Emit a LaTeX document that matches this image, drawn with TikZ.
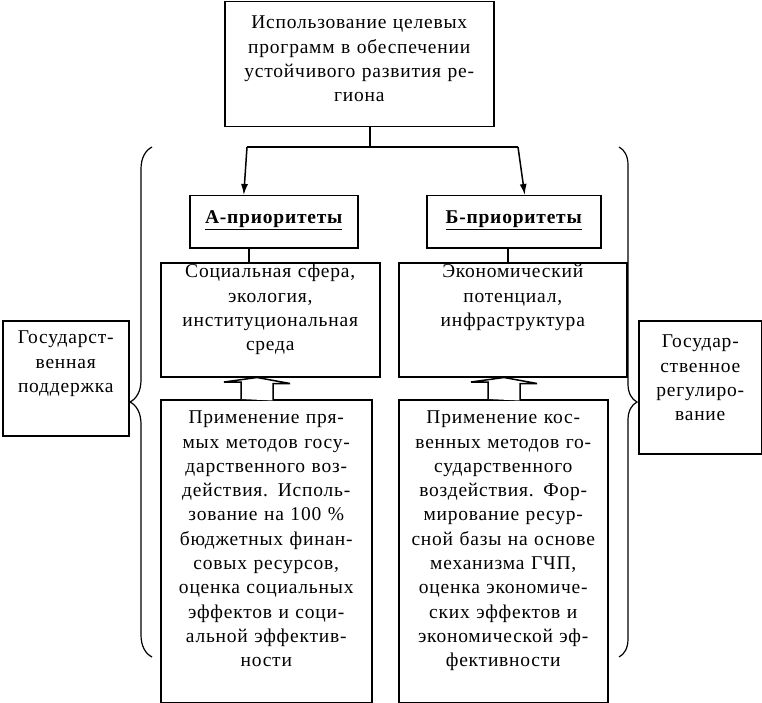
\documentclass[tikz,border=0pt]{standalone}
\usepackage{fontspec}
\setmainfont{Liberation Serif}[LetterSpace=4.0]
\usepackage{tikz}
\usetikzlibrary{arrows.meta,calc,positioning,decorations.pathreplacing}

\tikzset{
  blk/.style={draw, line width=1.5pt, inner sep=0pt, align=center, anchor=north west,
    font=\fontsize{19.5}{24.3}\selectfont},
  conn/.style={line width=1.5pt},
  arr/.style={conn, -{Latex[length=11pt,width=7pt]}},
  hollow/.style={line width=1.5pt, fill=white, line join=miter},
  brc/.style={line width=1.2pt, decorate, decoration={brace, amplitude=#1}},
  brc/.default=20pt
}

\begin{document}
\begin{tikzpicture}[x=1pt, y=-1pt]
\useasboundingbox (0,0) rectangle (762,703);
% boxes
\node[blk, text width=269pt, text height=27pt, text depth=98pt] (goal) at (224,1)
  {Использование целевых\\программ в обеспечении\\устойчивого развития ре-\\гиона};
\node[blk, text width=168pt, text height=28pt, text depth=24pt,
  font=\fontsize{19.5}{24.3}\selectfont\bfseries] (prA) at (189,195) {\underline{А-приоритеты}};
\node[blk, text width=174pt, text height=28pt, text depth=24pt,
  font=\fontsize{19.5}{24.3}\selectfont\bfseries] (prB) at (426,195) {\underline{Б-приоритеты}};
\node[blk, text width=219pt, text height=15pt, text depth=99pt] (sfA) at (160,262)
  {Социальная сфера,\\экология,\\институциональная\\среда};
\node[blk, text width=228pt, text height=15pt, text depth=99pt] (sfB) at (398,262)
  {Экономический\\потенциал,\\инфраструктура};
\node[blk, text width=211pt, text height=24pt, text depth=279pt] (mtA) at (160,399)
  {Применение пря-\\мых методов госу-\\дарственного воз-\\действия. Исполь-\\зование на 100~\%\\бюджетных финан-\\совых ресурсов,\\оценка социальных\\эффектов и соци-\\альной эффектив-\\ности};
\node[blk, text width=209pt, text height=24pt, text depth=279pt] (mtB) at (398,399)
  {Применение кос-\\венных методов го-\\сударственного\\воздействия. Фор-\\мирование ресур-\\сной базы на основе\\механизма ГЧП,\\оценка экономиче-\\ских эффектов и\\экономической эф-\\фективности};
\node[blk, text width=126pt, text height=23pt, text depth=92pt] (sup) at (2,320)
  {Государст-\\венная\\поддержка};
\node[blk, text width=123pt, text height=27pt, text depth=106pt] (reg) at (638,320)
  {Государ-\\ственное\\регулиро-\\вание};
% fork from the goal
\coordinate (fork) at (370,147);
\coordinate (forkL) at (247,147);
\coordinate (forkR) at (518,147);
\draw[conn] (goal.south -| fork) -- (fork);
\draw[conn] (forkL) -- (forkR);
\draw[arr] (forkL) -- ([xshift=-30pt]prA.north);
\draw[arr] (forkR) -- ([xshift=11pt]prB.north);
\draw[conn] ([xshift=-25pt]prA.south) -- ([xshift=-25pt]prA.south |- sfA.north);
\draw[conn] ([xshift=-6pt]prB.south) -- ([xshift=-6pt]prB.south |- sfB.north);
% wide arrows up
\coordinate (upA) at (mtA.north -| 257,0);
\coordinate (upB) at (mtB.north -| 504,0);
\draw[hollow] ([xshift=-16pt]upA) -- ++(0,-17) -- ++(-17,0) -- (upA |- sfA.south) -- ++(33,6) -- ++(-17,0) -- ++(0,17);
\draw[hollow] ([xshift=-16pt]upB) -- ++(0,-17) -- ++(-17,0) -- (upB |- sfB.south) -- ++(33,6) -- ++(-17,0) -- ++(0,17);
% braces
\draw[brc=22pt] (152,657) -- (152,147);
\draw[brc=18pt] (619,147) -- (619,657);
\end{tikzpicture}
\end{document}
